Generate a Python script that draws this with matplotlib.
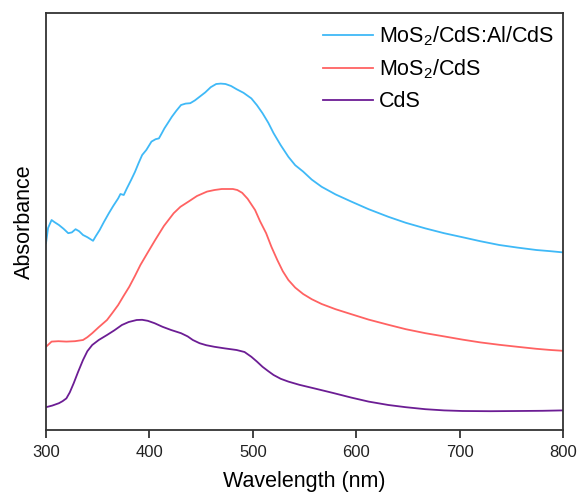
import matplotlib
matplotlib.use("Agg")
import matplotlib.pyplot as plt

plt.rcParams['font.family'] = ['Liberation Sans', 'DejaVu Sans']
plt.rcParams['mathtext.default'] = 'regular'
plt.rcParams['mathtext.fontset'] = 'custom'
plt.rcParams['mathtext.rm'] = 'Liberation Sans'

# Data (arbitrary absorbance units)
wl_al = [300, 302, 305.4, 308, 312.5, 317, 321.5, 325, 328.6, 332, 335.8, 340, 345.5,
         348, 351.9, 356, 360.8, 365, 369.8, 372, 375.2, 378, 382.3, 386, 389.5, 393,
         397, 402, 406, 409.2, 412, 414.5, 418, 421.7, 426, 430.6, 435, 439.5, 444,
         448.5, 454, 459.3, 464.6, 469, 473.6, 479, 484.3, 491, 498.6, 504, 509.4,
         515, 520.1, 527, 534.4, 541, 548.7, 557, 566.6, 580, 595.3, 612, 631.1, 648,
         666.9, 685, 702.7, 720, 738.4, 756, 774.2, 788, 800]
abs_al = [0.467, 0.505, 0.525, 0.520, 0.5125, 0.503, 0.492, 0.494, 0.502, 0.497, 0.4875,
          0.482, 0.473, 0.484, 0.500, 0.520, 0.542, 0.560, 0.579, 0.590, 0.5875, 0.603,
          0.625, 0.645, 0.667, 0.6875, 0.700, 0.721, 0.727, 0.729, 0.742, 0.754, 0.768,
          0.783, 0.798, 0.8125, 0.816, 0.817, 0.824, 0.833, 0.844, 0.857, 0.865, 0.866,
          0.865, 0.860, 0.852, 0.843, 0.829, 0.812, 0.792, 0.768, 0.742, 0.712, 0.683,
          0.662, 0.646, 0.626, 0.608, 0.589, 0.571, 0.552, 0.533, 0.518, 0.504, 0.492,
          0.482, 0.472, 0.4625, 0.456, 0.450, 0.447, 0.444]

wl_mos = [300, 305.4, 312, 319.7, 328, 335.8, 340, 344.7, 351, 359, 364, 369.8, 375,
          380.5, 386, 391.3, 398, 405.6, 414, 423.5, 430, 437.8, 446, 455.7, 463, 470,
          480.7, 485, 489.7, 495, 502.2, 507, 512.9, 518, 523.7, 529, 534.4, 541,
          548.7, 557, 566.6, 580, 595.3, 612, 631.1, 648, 666.9, 685, 702.7, 720,
          738.4, 756, 774.2, 788, 800]
abs_mos = [0.208, 0.221, 0.222, 0.221, 0.222, 0.225, 0.232, 0.242, 0.257, 0.275, 0.292,
           0.3125, 0.335, 0.358, 0.385, 0.4125, 0.442, 0.475, 0.510, 0.542, 0.558,
           0.571, 0.585, 0.596, 0.600, 0.6025, 0.6025, 0.600, 0.593, 0.578, 0.550, 0.522,
           0.492, 0.458, 0.425, 0.397, 0.375, 0.356, 0.340, 0.327, 0.315, 0.302,
           0.2895, 0.276, 0.263, 0.252, 0.242, 0.234, 0.226, 0.219, 0.213, 0.208,
           0.203, 0.200, 0.198]

wl_cds = [300, 306, 312.5, 316, 319.7, 323, 326.8, 331, 335.8, 340, 344.7, 351, 359,
          366, 373.4, 380, 387.7, 393, 398.4, 405, 412.7, 421, 430.6, 437, 442, 448.5,
          455, 462.9, 473, 484.3, 492, 498.6, 504, 509.4, 515, 520.1, 527, 534.4, 545,
          559.5, 577, 595.3, 612, 631.1, 648, 666.9, 685, 702.7, 730, 756.4, 780, 800]
abs_cds = [0.057, 0.061, 0.067, 0.072, 0.079, 0.094, 0.117, 0.145, 0.175, 0.197, 0.2125,
           0.225, 0.2375, 0.249, 0.2625, 0.270, 0.275, 0.2755, 0.273, 0.267, 0.258,
           0.250, 0.242, 0.234, 0.225, 0.217, 0.212, 0.208, 0.204, 0.200, 0.195, 0.183,
           0.171, 0.158, 0.147, 0.1375, 0.128, 0.121, 0.113, 0.104, 0.093, 0.081, 0.071,
           0.0625, 0.057, 0.052, 0.049, 0.0475, 0.047, 0.0475, 0.048, 0.049]

labels = [r'MoS$_2$/CdS:Al/CdS', r'MoS$_2$/CdS', 'CdS']
colors = ['#3FB9F7', '#FF6262', '#6C1D94']
xticks = [300, 400, 500, 600, 700, 800]

fig = plt.figure(figsize=(5.8, 4.97), dpi=100)
ax = fig.add_axes([46/580, (497-430)/497, (563-46)/580, (430-13)/497])

ax.plot(wl_al, abs_al, color=colors[0], lw=1.3, label=labels[0])
ax.plot(wl_mos, abs_mos, color=colors[1], lw=1.3, label=labels[1])
ax.plot(wl_cds, abs_cds, color=colors[2], lw=1.3, label=labels[2])

ax.set_xlim(300, 800)
ax.set_ylim(0, 417/400)
ax.set_xticks(xticks)
ax.set_xticklabels([str(t) for t in xticks])
ax.set_yticks([])
ax.tick_params(axis='x', direction='out', length=6, width=1.2, labelsize=12,
               colors='#222222', pad=5)
for s in ax.spines.values():
    s.set_linewidth(1.3)
    s.set_color('#333333')

ax.set_xlabel('Wavelength (nm)', fontsize=15.5, labelpad=8)
ax.set_ylabel('Absorbance', fontsize=15.5, labelpad=8)

ax.legend(loc='upper right', bbox_to_anchor=(1.0, 0.993), frameon=False,
          fontsize=15.5, handlelength=2.3, borderaxespad=0.0, labelspacing=0.45,
          handletextpad=0.3)

fig.savefig('out.png', dpi=100)
